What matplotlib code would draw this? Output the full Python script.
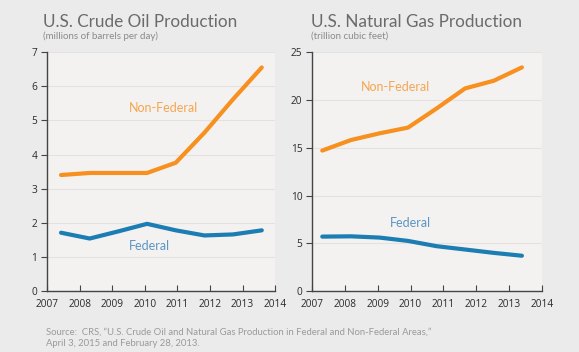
import matplotlib.pyplot as plt

# positions of the plotted points along the year axis
oil_years = [2007.43, 2008.31, 2009.19, 2010.07, 2010.95, 2011.83, 2012.71, 2013.59]
oil_nonfederal = [3.40, 3.46, 3.46, 3.46, 3.76, 4.64, 5.62, 6.55]
oil_federal = [1.71, 1.54, 1.75, 1.97, 1.78, 1.63, 1.66, 1.78]

gas_years = [2007.31, 2008.18, 2009.05, 2009.92, 2010.79, 2011.66, 2012.53, 2013.39]
gas_nonfederal = [14.7, 15.8, 16.5, 17.1, 19.1, 21.2, 22.0, 23.4]
gas_federal = [5.7, 5.73, 5.6, 5.25, 4.7, 4.35, 4.0, 3.7]

year_ticks = list(range(2007, 2015))

ORANGE = "#f7901e"
BLUE = "#1b7db3"
ORANGE_TXT = "#f5a650"
BLUE_TXT = "#5b95c4"
BG = "#ebebeb"
AX_BG = "#f3f2f1"

plt.rcParams["font.family"] = ["Lato", "DejaVu Sans"]

fig = plt.figure(figsize=(5.79, 3.52), dpi=100, facecolor=BG)
ax1 = fig.add_axes([0.0812, 0.173, 0.394, 0.679])
ax2 = fig.add_axes([0.539, 0.173, 0.397, 0.679])


def style(ax, ymax, step):
    ax.set_facecolor(AX_BG)
    ax.set_xlim(2007, 2014)
    ax.set_ylim(0, ymax)
    ax.set_xticks(year_ticks)
    ax.set_yticks(range(0, ymax + 1, step))
    for s in ["top", "right"]:
        ax.spines[s].set_visible(False)
    for s in ["left", "bottom"]:
        ax.spines[s].set_color("#444444")
        ax.spines[s].set_linewidth(1.0)
    ax.grid(axis="y", color="#e3e2e1", linewidth=0.8)
    ax.set_axisbelow(True)
    ax.tick_params(axis="x", direction="in", length=4, color="#444444",
                   labelsize=7.3, labelcolor="#2a2a2a", pad=6)
    ax.tick_params(axis="y", direction="out", length=4, color="#444444",
                   labelsize=7.3, labelcolor="#2a2a2a", pad=3)
    for lab in ax.get_xticklabels() + ax.get_yticklabels():
        lab.set_family(["Open Sans", "DejaVu Sans"])


style(ax1, 7, 1)
style(ax2, 25, 5)

ax1.plot(oil_years, oil_nonfederal, color=ORANGE, lw=3, solid_capstyle="round")
ax1.plot(oil_years, oil_federal, color=BLUE, lw=3, solid_capstyle="round")
ax1.text(2010.56, 5.35, "Non-Federal", color=ORANGE_TXT, fontsize=9, ha="center", va="center")
ax1.text(2010.13, 1.32, "Federal", color=BLUE_TXT, fontsize=9, ha="center", va="center")

ax2.plot(gas_years, gas_nonfederal, color=ORANGE, lw=3, solid_capstyle="round")
ax2.plot(gas_years, gas_federal, color=BLUE, lw=3, solid_capstyle="round")
ax2.text(2009.55, 21.3, "Non-Federal", color=ORANGE_TXT, fontsize=9, ha="center", va="center")
ax2.text(2010.0, 7.1, "Federal", color=BLUE_TXT, fontsize=9, ha="center", va="center")

fig.text(43 / 579, 1 - 22 / 352, "U.S. Crude Oil Production", fontsize=12.3,
         color="#6b6b6b", ha="left", va="center")
fig.text(43 / 579, 1 - 36 / 352, "(millions of barrels per day)", fontsize=7,
         color="#8a8a8a", ha="left", va="center")
fig.text(311 / 579, 1 - 22 / 352, "U.S. Natural Gas Production", fontsize=12.3,
         color="#6b6b6b", ha="left", va="center")
fig.text(311 / 579, 1 - 36 / 352, "(trillion cubic feet)", fontsize=7,
         color="#8a8a8a", ha="left", va="center")

fig.text(46 / 579, 1 - 332 / 352,
         "Source:  CRS, \u201cU.S. Crude Oil and Natural Gas Production in Federal and Non-Federal Areas,\u201d",
         fontsize=6.8, color="#9a9a9a", ha="left", va="center")
fig.text(46 / 579, 1 - 344 / 352, "April 3, 2015 and February 28, 2013.",
         fontsize=6.8, color="#9a9a9a", ha="left", va="center")

fig.savefig("out.png", dpi=100, facecolor=BG)
